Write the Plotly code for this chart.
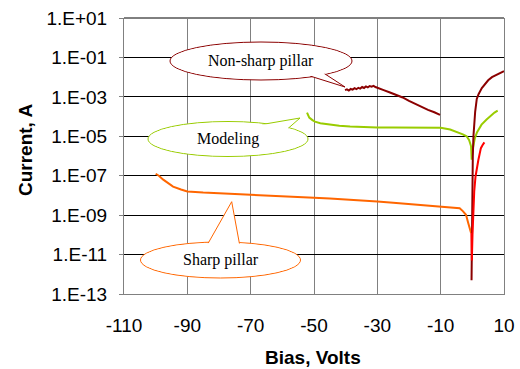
import plotly.graph_objects as go

# ---------------- data ----------------
sharp_neg_V = [-100, -99, -97.6, -96, -94.5, -92, -90, -85, -80, -75, -70, -65, -60, -55, -50,
               -45, -40, -35, -30, -25, -20, -15, -10, -6, -4, -3, -2, -1.3, -0.8, -0.4]
sharp_neg_I = [1.26e-7, 1.0e-7, 6.3e-8, 4.0e-8, 2.8e-8, 2.0e-8, 1.6e-8, 1.4e-8, 1.32e-8, 1.17e-8,
               1.07e-8, 1.0e-8, 9.1e-9, 8.3e-9, 7.6e-9, 6.9e-9, 6.3e-9, 5.6e-9, 4.9e-9, 4.3e-9,
               3.7e-9, 3.2e-9, 2.75e-9, 2.4e-9, 2.24e-9, 1.6e-9, 1.05e-9, 4.0e-10, 2.0e-10, 1.26e-10]

sharp_pos_V = [-0.3, -0.15, 0.05, 0.3, 0.6, 1.0, 1.4, 1.9, 2.3, 2.7, 3.2, 3.8]
sharp_pos_I = [1.26e-10, 5.0e-12, 1.0e-10, 2.0e-9, 1.6e-8, 8.9e-8, 2.5e-7, 6.3e-7, 1.26e-6,
               2.5e-6, 3.5e-6, 4.9e-6]

nonsharp_neg_V = [-40.2, -39.6, -39.0, -38.4, -37.8, -37.2, -36.6, -36.0, -35.4, -34.8, -34.2,
                  -33.6, -33.0, -32.4, -31.8, -31.2, -30.6, -30.0, -28, -26, -24, -22, -20, -18,
                  -16, -14, -12, -10.2]
nonsharp_neg_I = [2.19e-3, 2.4e-3, 2.09e-3, 2.51e-3, 2.34e-3, 2.75e-3, 2.45e-3, 2.88e-3, 2.63e-3,
                  3.16e-3, 2.82e-3, 3.39e-3, 3.02e-3, 3.55e-3, 3.31e-3, 3.63e-3, 3.16e-3, 2.95e-3,
                  2.2e-3, 1.66e-3, 1.26e-3, 9.3e-4, 6.3e-4, 4.4e-4, 3.2e-4, 2.2e-4, 1.66e-4, 1.23e-4]

nonsharp_pos_V = [-0.25, -0.2, -0.1, 0.0, 0.15, 0.35, 0.6, 0.9, 1.4, 2.0, 3.0, 4.0, 5.0, 6.2,
                  7.7, 9.0, 10.0]
nonsharp_pos_I = [5.0e-13, 1.0e-11, 1.0e-9, 3.2e-8, 1.0e-6, 1.0e-5, 5.0e-5, 1.8e-4, 7.9e-4,
                  1.4e-3, 2.8e-3, 4.7e-3, 6.9e-3, 1.0e-2, 1.35e-2, 1.7e-2, 2.0e-2]

model_V = [-52.2, -51.5, -50.5, -49.7, -48, -45, -42, -38.6, -35, -30, -25, -20, -15, -10, -7,
           -5.5, -3, -1.8, -1.0, -0.4, -0.2, 0.2, 0.8, 1.5, 2.9, 4.5, 6.1, 7.0, 8.0]
model_I = [1.6e-4, 8.9e-5, 6.6e-5, 5.5e-5, 4.6e-5, 3.8e-5, 3.4e-5, 3.1e-5, 2.9e-5, 2.75e-5,
           2.75e-5, 2.75e-5, 2.75e-5, 2.7e-5, 2.2e-5, 1.8e-5, 1.26e-5, 1.0e-5, 6.3e-6, 3.1e-6,
           6.5e-7, 2.5e-6, 8.1e-6, 1.6e-5, 3.9e-5, 7.1e-5, 1.26e-4, 1.6e-4, 2.0e-4]

x_ticks = [-110, -90, -70, -50, -30, -10, 10]
x_ticktext = ["-110", "-90", "-70", "-50", "-30", "-10", "10"]
y_tickvals = [1e1, 1e-1, 1e-3, 1e-5, 1e-7, 1e-9, 1e-11, 1e-13]
y_ticktext = ["1.E+01", "1.E-01", "1.E-03", "1.E-05", "1.E-07", "1.E-09", "1.E-11", "1.E-13"]

# ---------------- styling ----------------
DARKRED = "#8B0000"
GREEN = "#99CC00"
ORANGE = "#FF6600"
RED = "#FF0000"
W, H = 520, 369
L, R, T, B = 124, 16, 18, 75
PW, PH = W - L - R, H - T - B


def px(x):
    return (x - L) / PW


def py(y):
    return (H - B - y) / PH


fig = go.Figure()
for xs, ys, c in [(sharp_neg_V, sharp_neg_I, ORANGE),
                  (model_V, model_I, GREEN),
                  (nonsharp_neg_V, nonsharp_neg_I, DARKRED),
                  (nonsharp_pos_V, nonsharp_pos_I, DARKRED),
                  (sharp_pos_V, sharp_pos_I, RED)]:
    fig.add_trace(go.Scatter(x=xs, y=ys, mode="lines", line=dict(color=c, width=2),
                             showlegend=False, hoverinfo="skip"))

shapes = []
annotations = []


def callout(cx, cy, rx, ry, wedge, color, text):
    shapes.append(dict(type="circle", xref="paper", yref="paper",
                       x0=px(cx - rx), x1=px(cx + rx), y0=py(cy + ry), y1=py(cy - ry),
                       line=dict(color=color, width=1), fillcolor="white", layer="above"))
    (ax_, ay_), (tx, ty), (bx, by) = wedge
    path = f"M {px(ax_)} {py(ay_)} L {px(tx)} {py(ty)} L {px(bx)} {py(by)}"
    shapes.append(dict(type="path", xref="paper", yref="paper", path=path,
                       line=dict(color=color, width=1), fillcolor="white", layer="above"))
    shapes.append(dict(type="circle", xref="paper", yref="paper",
                       x0=px(cx - rx + 1), x1=px(cx + rx - 1), y0=py(cy + ry - 1),
                       y1=py(cy - ry + 1),
                       line=dict(width=0), fillcolor="white", layer="above"))
    annotations.append(dict(xref="paper", yref="paper", x=px(cx), y=py(cy), text=text,
                            showarrow=False, xanchor="center", yanchor="middle",
                            font=dict(family="Liberation Serif", size=16, color="black")))


callout(261, 61, 91, 19, [(310, 76), (345, 87), (322, 72)], DARKRED, "Non-sharp pillar")
callout(228, 139, 80, 17.5, [(262, 124.5), (300, 118), (288, 128.5)], GREEN, "Modeling")
callout(220.5, 260, 80, 18, [(208, 243.5), (231.7, 201.7), (239.5, 244)], ORANGE, "Sharp pillar")

# top frame line
shapes.append(dict(type="line", xref="paper", yref="paper", x0=0, x1=1, y0=1, y1=1,
                   line=dict(color="black", width=1), layer="below"))

annotations.append(dict(xref="paper", yref="paper", x=px(313), y=py(357), text="<b>Bias, Volts</b>",
                        showarrow=False, xanchor="center", yanchor="middle",
                        font=dict(family="Liberation Sans", size=19, color="black")))
annotations.append(dict(xref="paper", yref="paper", x=px(25), y=py(150), text="<b>Current, A</b>",
                        showarrow=False, xanchor="center", yanchor="middle", textangle=-90,
                        font=dict(family="Liberation Sans", size=19, color="black")))

fig.update_layout(
    width=W, height=H,
    margin=dict(l=L, r=R, t=T, b=B, autoexpand=False),
    paper_bgcolor="white", plot_bgcolor="white",
    shapes=shapes, annotations=annotations,
    xaxis=dict(range=[-110, 10], tickvals=x_ticks, ticktext=x_ticktext, showgrid=True,
               gridcolor="#808080", automargin=False,
               gridwidth=1, zeroline=False, showline=True, linecolor="#808080", linewidth=1,
               ticks="", ticklabelstandoff=14,
               tickfont=dict(family="Liberation Sans", size=19, color="black")),
    yaxis=dict(type="log", range=[-13, 1], tickvals=y_tickvals, ticktext=y_ticktext,
               automargin=False,
               showgrid=True, gridcolor="black", gridwidth=1, zeroline=False,
               showline=True, mirror=True, linecolor="#808080", linewidth=1,
               ticks="outside", ticklen=4, tickcolor="#808080", ticklabelstandoff=8,
               tickfont=dict(family="Liberation Sans", size=19, color="black")),
)

fig.write_html("out.html")
